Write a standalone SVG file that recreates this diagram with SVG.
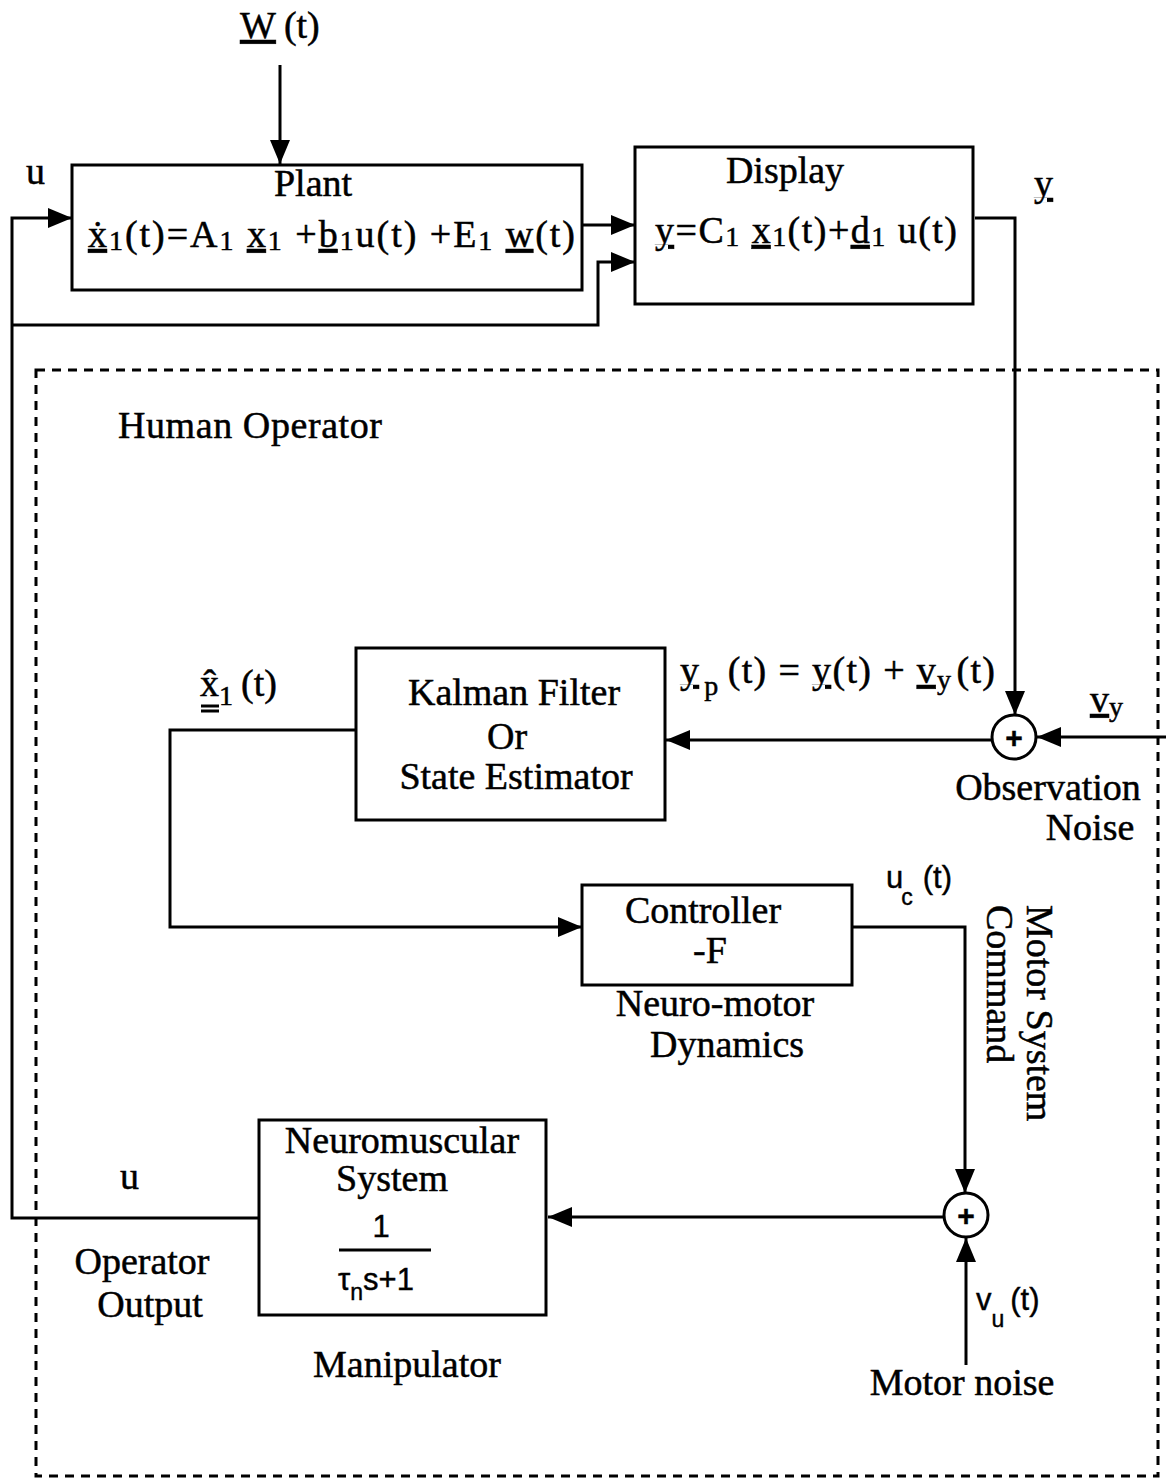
<svg xmlns="http://www.w3.org/2000/svg" width="1166" height="1482" viewBox="0 0 1166 1482">
<defs>
<marker id="ah" markerUnits="userSpaceOnUse" markerWidth="26" markerHeight="20" refX="24" refY="10" orient="auto">
<path d="M0,0 L24,10 L0,20 Z" fill="#000"/>
</marker>
<style>
.box{fill:#fff;stroke:#000;stroke-width:3}
.ln{fill:none;stroke:#000;stroke-width:3}
.t{font-family:"Liberation Serif","DejaVu Serif",serif;font-size:38px;fill:#000;stroke:#000;stroke-width:0.5}
.c{text-anchor:middle}
.s{font-family:"Liberation Sans","DejaVu Sans",sans-serif;fill:#000;stroke:#000;stroke-width:0.4}
.u{text-decoration:underline}
.sub{font-size:28px}
.plus{font-size:30px;font-weight:bold}
</style>
</defs>
<rect width="1166" height="1482" fill="#fff"/>

<rect id="human-operator-boundary" x="36" y="370" width="1122" height="1106" fill="none" stroke="#000" stroke-width="3" stroke-dasharray="9,7"/>

<g id="connectors">
<line class="ln" x1="280" y1="65" x2="280" y2="164" marker-end="url(#ah)"/>
<polyline class="ln" points="259,1218 12,1218 12,218 72,218" marker-end="url(#ah)"/>
<polyline class="ln" points="12,325 598,325 598,262 635,262" marker-end="url(#ah)"/>
<line class="ln" x1="582" y1="225" x2="635" y2="225" marker-end="url(#ah)"/>
<polyline class="ln" points="975,218 1015,218 1015,715" marker-end="url(#ah)"/>
<line class="ln" x1="1166" y1="737" x2="1037" y2="737" marker-end="url(#ah)"/>
<line class="ln" x1="992" y1="740" x2="666" y2="740" marker-end="url(#ah)"/>
<polyline class="ln" points="356,730 170,730 170,927 582,927" marker-end="url(#ah)"/>
<polyline class="ln" points="852,927 965,927 965,1193" marker-end="url(#ah)"/>
<line class="ln" x1="966" y1="1365" x2="966" y2="1238" marker-end="url(#ah)"/>
<line class="ln" x1="944" y1="1217" x2="548" y2="1217" marker-end="url(#ah)"/>
</g>

<g id="w-input">
<text class="t" x="240" y="38" font-size="32"><tspan class="u">W</tspan><tspan dx="8">(t)</tspan></text>
</g>

<g id="plant">
<rect class="box" x="72" y="165" width="510" height="125"/>
<text class="t c" x="313" y="196">Plant</text>
<text class="t" x="88" y="247" textLength="487" lengthAdjust="spacing"><tspan class="u">ẋ</tspan><tspan class="sub" dy="3">1</tspan><tspan dy="-3">(t)=A</tspan><tspan class="sub" dy="3">1</tspan><tspan dy="-3"> </tspan><tspan class="u">x</tspan><tspan class="sub" dy="3">1</tspan><tspan dy="-3"> +</tspan><tspan class="u">b</tspan><tspan class="sub" dy="3">1</tspan><tspan dy="-3">u(t) +E</tspan><tspan class="sub" dy="3">1</tspan><tspan dy="-3"> </tspan><tspan class="u">w</tspan><tspan>(t)</tspan></text>
<text class="t" x="26" y="184">u</text>
</g>

<g id="display">
<rect class="box" x="635" y="147" width="338" height="157"/>
<text class="t c" x="785" y="183">Display</text>
<text class="t" x="655" y="243" textLength="302" lengthAdjust="spacing"><tspan class="u">y</tspan><tspan>=C</tspan><tspan class="sub" dy="3">1</tspan><tspan dy="-3"> </tspan><tspan class="u">x</tspan><tspan class="sub" dy="3">1</tspan><tspan dy="-3">(t)+</tspan><tspan class="u">d</tspan><tspan class="sub" dy="3">1</tspan><tspan dy="-3"> u(t)</tspan></text>
<text class="t u" x="1034" y="196">y</text>
</g>

<g id="human-operator-label">
<text class="t" x="118" y="438" textLength="264" lengthAdjust="spacing">Human  Operator</text>
</g>

<g id="kalman-filter">
<rect class="box" x="356" y="648" width="309" height="172"/>
<text class="t c" x="514" y="705">Kalman Filter</text>
<text class="t c" x="507" y="749">Or</text>
<text class="t c" x="516" y="789">State  Estimator</text>
<text class="t" x="200" y="696">x̂<tspan class="sub" dy="9">1</tspan><tspan dy="-9" dx="8">(t)</tspan></text>
<line class="ln" x1="201" y1="706" x2="219" y2="706" stroke-width="2"/>
<line class="ln" x1="201" y1="711" x2="219" y2="711" stroke-width="2"/>
<text class="t" x="680" y="683" textLength="315" lengthAdjust="spacing"><tspan class="u">y</tspan><tspan class="sub" dy="12" dx="4">p</tspan><tspan dy="-12" dx="8">(t) = </tspan><tspan class="u">y</tspan><tspan>(t) + </tspan><tspan class="u">v</tspan><tspan class="sub" dy="6">y</tspan><tspan dy="-6" dx="4">(t)</tspan></text>
</g>

<g id="observation-sum">
<circle cx="1014" cy="737" r="22" fill="#fff" stroke="#000" stroke-width="3"/>
<text class="s c plus" x="1014" y="748">+</text>
<text class="t" x="1090" y="712"><tspan class="u">v</tspan><tspan class="sub" dy="4">y</tspan></text>
<text class="t c" x="1048" y="800">Observation</text>
<text class="t c" x="1090" y="840">Noise</text>
</g>

<g id="controller">
<rect class="box" x="582" y="885" width="270" height="100"/>
<text class="t c" x="703" y="923">Controller</text>
<text class="t c" x="710" y="963">-F</text>
<text class="t c" x="715" y="1016" font-size="35">Neuro-motor</text>
<text class="t c" x="727" y="1057" font-size="35">Dynamics</text>
<text class="s" x="886" y="888" font-size="31">u<tspan font-size="23" dy="17" dx="-2">c</tspan><tspan dy="-17" dx="10">(t)</tspan></text>
<text class="t" transform="translate(1027,905) rotate(90)">Motor System</text>
<text class="t" transform="translate(987,905) rotate(90)">Command</text>
</g>

<g id="motor-sum">
<circle cx="966" cy="1215" r="22" fill="#fff" stroke="#000" stroke-width="3"/>
<text class="s c plus" x="966" y="1226">+</text>
<text class="s" x="976" y="1310" font-size="31">v<tspan font-size="23" dy="17">u</tspan><tspan dy="-17" dx="6">(t)</tspan></text>
<text class="t c" x="962" y="1395">Motor noise</text>
</g>

<g id="neuromuscular">
<rect class="box" x="259" y="1120" width="287" height="195"/>
<text class="t c" x="402" y="1153">Neuromuscular</text>
<text class="t c" x="392" y="1191">System</text>
<text class="s c" x="381" y="1237" font-size="31">1</text>
<line class="ln" x1="339" y1="1250" x2="431" y2="1250"/>
<text class="s" x="338" y="1290" font-size="31">τ<tspan font-size="23" dy="10">n</tspan><tspan dy="-10">s+1</tspan></text>
<text class="t c" x="407" y="1377">Manipulator</text>
<text class="t" x="120" y="1189">u</text>
<text class="t c" x="142" y="1274">Operator</text>
<text class="t c" x="150" y="1317">Output</text>
</g>
</svg>
